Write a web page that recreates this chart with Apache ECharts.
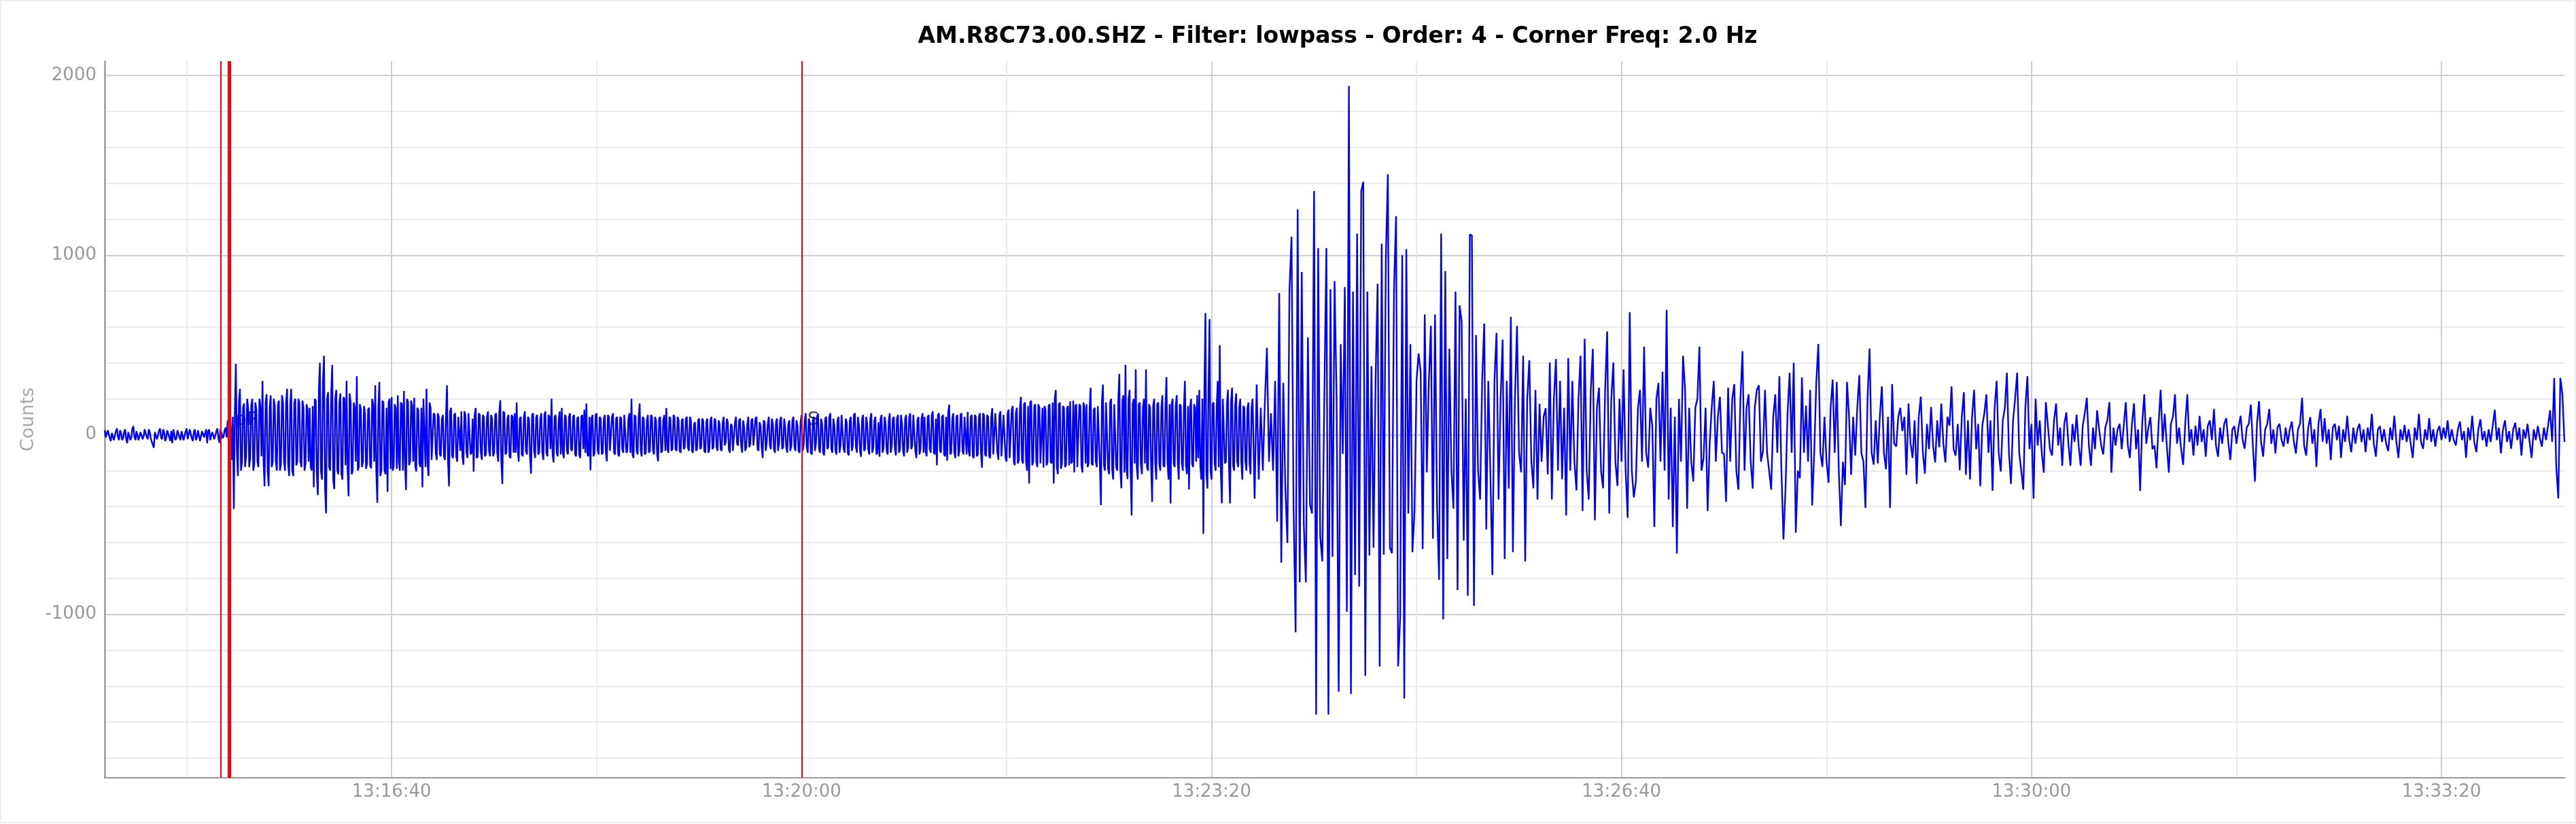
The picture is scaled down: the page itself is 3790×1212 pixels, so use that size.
<!DOCTYPE html>
<html><head><meta charset="utf-8">
<script src="https://cdn.jsdelivr.net/npm/echarts@6/dist/echarts.min.js"></script>
<style>html,body{margin:0;padding:0;background:#fff}#c{width:3790px;height:1212px}</style>
</head><body><div id="c"></div><script>
// ---- data ----
const START_TIME = '13:14:20';
const END_TIME = '13:34:20';
const SAMPLE_SECONDS = 1;

// trace values (counts) on whole seconds, in 100-second blocks
const w131420 = [25,-20,30,-35,15,-25,35,-30,10,-20,
30,-47,20,-15,48,-30,25,-35,20,-10,
30,-25,15,-40,-72,20,-30,35,-25,15,
-20,30,-35,-47,25,-20,30,-30,20,-25,
35,-20,25,-35,30,-15,20,-30,25,-20,
-47,30,-25,20,-30,35,-45,10,-10,40,
80,200,-140,-413,395,-230,256,-154,174,-120,
150,-130,200,-160,140,-180,160,300,-287,225,
-287,219,-150,160,-200,190,-167,180,-200,256,
-230,256,-230,200,-150,174,-180,150,-160,140];
const w131600 = [150,-200,-293,187,-337,401,-250,440,-438,237,
-200,389,-303,250,-220,230,-250,200,300,-343,
180,-200,150,326,-180,140,-150,120,-160,150,
-187,168,275,-379,294,-200,180,-220,-318,200,
210,-180,150,219,-200,170,244,-308,180,-150,
160,206,-205,140,-180,-293,200,256,-230,150,
-140,111,-141,100,-120,110,-141,275,-287,150,
-130,120,-150,100,130,-167,110,-130,120,-100,
-205,149,-120,110,-140,100,-110,130,-120,90,
-100,120,-150,193,-274,120,-100,110,-130,100];
const w131740 = [120,180,-150,100,-120,130,-110,90,-217,120,
-130,110,-100,120,-140,130,-120,100,200,-154,
110,-120,130,149,-130,100,-110,120,-90,110,
-120,100,-130,110,140,174,-120,-198,110,-100,
120,-110,90,-100,110,-148,100,-90,120,-110,
100,-120,90,-100,110,-90,120,200,-129,100,
-110,174,-120,90,-100,110,-90,100,-110,80,
-148,100,-90,110,149,-100,90,-80,100,-90,
80,-100,90,-70,100,-90,80,-100,70,-80,
90,-70,80,-100,90,-80,100,-70,80,-90];
const w131920 = [60,-90,100,-40,70,-100,50,-90,100,-60,
90,-100,40,-70,100,-50,90,-60,100,-90,
50,-129,70,-40,100,-80,60,-100,90,-50,
100,-70,40,-100,80,-60,100,-90,50,-100,
110,-60,120,-100,70,-110,100,-50,118,-100,
60,-115,100,-70,120,-100,50,-110,100,-60,
110,-100,70,-115,100,-60,120,-100,50,-122,
110,-80,60,-110,120,-70,100,-100,-122,110,
-70,60,-110,120,-60,100,-115,110,-80,60,
-120,110,-70,120,-60,110,-130,100,-80,120];
const w132100 = [100,-120,110,-100,130,-110,-170,120,-100,110,
-120,-145,168,-100,120,-130,110,-90,120,-110,
100,127,-120,110,-130,100,-110,120,-183,110,
-120,100,-130,148,-110,120,-140,130,-120,110,
-150,140,-130,160,-170,150,-140,211,-160,180,
-200,-272,190,-150,170,-180,150,-160,-183,140,
-150,170,-160,-272,250,-220,180,-160,150,-170,
160,186,-150,-209,170,-180,160,-210,150,170,
-160,262,-170,150,-180,160,-392,280,-200,180,
-220,200,-250,170,-200,339,-298,220,390,-247];
const w132240 = [250,-450,200,364,-250,180,-220,200,364,-200,
150,-374,200,-250,180,-200,220,-180,321,-250,
-382,200,-180,220,-250,160,-200,300,-220,-305,
200,-180,150,220,250,-250,-552,677,-300,644,
-250,180,-200,300,499,-382,200,-150,250,-382,
262,-200,230,-180,200,-250,150,-200,180,-220,
200,-356,280,-250,150,-200,180,484,-150,120,
-200,300,-484,789,-713,288,-300,-603,810,1102,
-400,-1100,1255,-822,906,-500,-822,542,-387,-438,
1357,-1558,1039,-565,-705,200,1039,-1558,810,-680];
const w132420 = [855,200,-1431,504,-107,822,-985,1942,-1443,797,
-782,1120,-845,1357,1408,-1342,797,-672,382,-629,
300,840,-1290,1064,-667,975,1451,-629,-660,810,
1217,-1290,-1023,1000,-1469,1033,-438,504,-654,-425,
300,453,351,-636,670,-209,300,606,-578,670,
-400,-807,1120,-1028,911,-692,479,-200,-412,797,
-865,720,631,-590,200,-896,1115,1110,-952,555,
-200,-361,300,619,-527,300,-200,-781,300,567,
-361,200,530,-692,300,-300,657,-654,200,606,
-100,-209,440,-705,200,415,-150,-298,250,-361];
const w132600 = [173,-150,100,148,-221,402,-361,200,422,-200,
300,-247,150,-450,427,-200,300,-150,-310,200,
440,-425,534,-200,-361,250,478,-476,150,262,
-200,-298,250,575,-438,200,402,-150,-285,200,
-150,364,-200,-463,682,-200,-349,-260,150,250,
-150,491,-100,-183,150,50,-514,200,288,-150,
351,-200,695,-361,150,-514,100,-662,199,-150,
440,250,-412,150,-150,-260,150,200,491,-200,
-132,150,-425,-50,150,300,-150,100,211,-100,
-107,-374,262,-150,199,282,-200,-306,200,465];
const w132740 = [-200,150,225,-150,-300,150,250,275,-150,-91,
250,-100,-200,-306,100,225,-100,326,-200,-583,
-300,124,345,-100,401,-545,-200,-242,320,-100,
162,-150,250,-394,-100,288,505,-100,-179,100,
-150,-268,150,307,-100,294,-200,-508,-150,-280,
294,100,-223,100,-116,150,332,-100,-150,-407,
200,480,-100,-167,80,-160,100,269,-100,-192,
100,-407,282,-50,-66,100,150,20,100,-223,
174,-50,-129,80,-274,100,212,-100,-217,60,
-80,155,-60,-154,80,-70,174,-50,-154,100];
const w132920 = [50,269,-80,-116,60,-198,100,237,-223,80,
-249,100,250,-80,60,-287,50,120,225,-100,
80,-312,150,300,-100,-205,80,150,345,-100,
-274,80,200,345,-100,-200,-306,150,326,-80,
60,-356,200,-60,80,-100,-211,181,50,-80,
-116,80,174,-60,40,-173,60,124,-50,-173,
60,-40,111,-60,-173,50,120,206,-60,-173,
40,-80,136,30,-60,-110,40,80,181,-211,
40,-60,30,61,-80,50,181,-60,-129,60,
174,-80,30,-312,60,225,-50,40,98,-80];
const w133100 = [-60,-186,60,250,-40,117,-60,-211,60,100,
225,-50,40,-80,-167,60,225,-40,30,-116,
50,-60,105,-40,30,-122,50,80,-30,143,
-60,-122,40,-50,60,92,-40,-141,30,48,
-50,40,105,-30,-78,40,60,168,-60,-261,
60,187,-40,-122,30,60,143,-50,30,-104,
40,61,-30,-66,40,-50,30,73,-40,-104,
30,60,206,-60,-116,40,98,-50,30,-179,
60,143,-40,92,-50,30,-141,40,61,-30,
50,-129,30,-40,105,-30,-97,40,-50,30];
const w133240 = [61,-40,30,-97,40,-30,117,-50,-122,30,
48,-40,30,-50,-91,40,-30,105,-40,-129,
30,-30,54,-40,30,-50,-129,40,-30,117,
-40,-78,30,-30,92,-40,30,-66,20,48,
-30,40,-20,80,-40,30,-30,-59,30,73,
-30,20,-129,40,-30,105,-40,-97,30,86,
-30,20,-66,30,-40,50,139,-30,40,-104,
30,80,-40,20,-78,30,67,-30,40,-116,
30,-20,61,-40,-129,30,-30,48,-20,-66,
40,-30,50,136,-40,316,-179,-354,316,225,
-40];

// extra half-second values for the dense stretch 13:14:20 - 13:23:40
const h131420 = [-15,25,-20,10,-30,20,-15,25,-30,15,
-25,15,-30,35,-10,20,-30,15,-25,30,
-10,30,-20,-45,15,-25,20,-15,30,-35,
25,-15,20,30,-30,25,-15,20,-30,20,
-25,30,-20,15,-30,25,-35,20,-15,30,
20,-30,15,-25,20,-20,30,-20,25,-15,
-60,40,100,120,-100,180,-200,150,-180,200,
-180,160,-200,180,-150,200,-120,-150,180,-200,
150,-180,200,-150,170,-200,220,-150,180,-160,
160,-200,180,-170,200,-150,190,-200,170,-150];
const h131600 = [-180,160,200,-220,250,-200,300,-300,200,-180,
220,-250,200,-200,180,-220,210,-170,-200,230,
-220,180,-150,-200,170,-180,160,-190,140,-170,
200,-150,-200,150,-230,190,-200,150,180,-190,
-200,170,-190,-150,180,-200,-160,200,-170,190,
-150,-170,150,-160,150,200,-180,-160,180,-140,
120,-100,120,-110,90,-120,100,-150,130,-120,
110,-120,100,-90,-120,130,-100,120,-110,90,
110,-130,120,-100,110,-120,100,-90,110,-120,
110,-100,120,-150,130,-110,90,-120,110,-100];
const h131740 = [-100,-80,90,-110,100,-90,100,-120,110,-90,
100,-110,90,-100,110,-100,110,-80,-110,100,
-100,90,-110,-100,110,-90,100,-80,100,-110,
90,-110,100,-80,-100,-110,100,90,-120,110,
-90,100,-110,90,-100,110,-90,100,-100,90,
-110,100,-80,110,-100,90,-100,-110,110,-90,
100,-90,100,-110,80,-100,110,-90,100,-110,
90,-100,80,-90,-80,100,-90,110,-80,100,
-90,80,-80,90,-70,100,-90,60,-90,80,
-80,90,-90,70,-100,80,-80,90,-70,80];
const h131920 = [-80,70,-60,90,-80,60,-90,70,-50,80,
-60,80,-90,60,-70,80,-60,90,-80,70,
-70,80,-90,60,-60,90,-80,70,-90,80,
-80,90,-70,60,-90,80,-70,80,-90,70,
-90,80,-70,90,-100,80,-90,100,-80,90,
-100,90,-80,100,-80,90,-90,80,-100,110,
-80,90,-100,80,-90,110,-70,100,-90,90,
-90,100,-80,90,-100,80,-110,70,90,-100,
100,-90,80,-100,90,-80,90,-100,110,-90,
90,-100,100,-80,110,-90,80,-110,90,-100];
const h132100 = [-90,100,-80,110,-100,90,110,-90,100,-110,
100,120,-110,90,-100,100,-120,110,-90,100,
-110,-90,100,-120,110,-120,100,-100,120,-110,
110,-120,100,-110,120,-100,110,-120,110,-130,
120,-130,140,-150,120,-160,150,-140,170,-150,
160,180,-170,160,-150,170,-160,150,160,-170,
160,-150,180,200,-180,170,-190,160,-180,150,
-170,-160,190,160,-180,170,-170,180,-160,-180,
150,-160,140,-150,160,-170,180,-170,180,-190,
180,-190,170,-180,190,-200,190,-210,-190,200];
const h132240 = [-200,170,-160,-180,170,-160,150,-160,-180,170,
-170,160,-150,170,-160,150,-170,160,-150,170,
170,-160,160,-150,170,-160,150,-170,160,150,
-160,170,-150,-130,-170,200,250,-220,250,-200,
170,-160,160,-180,-200,200,-160,170,-180,180,
-170,160,-150,150,-150,160,-150,150,-160,150];

const yGridValues = [-1800,-1600,-1400,-1200,-1000,-800,-600,-400,-200,0,200,400,600,800,1000,1200,1400,1600,1800,2000];
const yLabelValues = [-1000,0,1000,2000];
const xGridTimes = ['13:15:00','13:16:40','13:18:20','13:20:00','13:21:40','13:23:20','13:25:00','13:26:40','13:28:20','13:30:00','13:31:40','13:33:20'];
const xLabelTimes = ['13:16:40','13:20:00','13:23:20','13:26:40','13:30:00','13:33:20'];
const phaseNames = ['', 'pP', 'S'];
const phaseTimes = ['13:15:16.7','13:15:20.8','13:20:00.0'];
const Y_MIN = -1910, Y_MAX = 2080;

// ---- build ----
function toSec(s){const p=s.split(':');return (+p[0])*3600+(+p[1])*60+parseFloat(p[2]);}
function fmt(v){const s=Math.round(v);const h=Math.floor(s/3600),m=Math.floor((s%3600)/60),ss=s%60;
  return h+':'+String(m).padStart(2,'0')+':'+String(ss).padStart(2,'0');}
const t0 = toSec(START_TIME);
const values = [].concat(w131420,w131600,w131740,w131920,w132100,w132240,w132420,w132600,w132740,w132920,w133100,w133240);
const halves = [].concat(h131420,h131600,h131740,h131920,h132100,h132240);
const trace = [];
values.forEach((v,i)=>{
  trace.push([t0 + i*SAMPLE_SECONDS, v]);
  if (i < halves.length) trace.push([t0 + (i+0.5)*SAMPLE_SECONDS, halves[i]]);
});

const phaseWidths = [2, 5, 2];
const FONT = 'DejaVu Sans';
const minorGrid = '#ebebeb', majorGrid = '#cfcfcf';

const chart = echarts.init(document.getElementById('c'), null, {renderer:'canvas', width:3790, height:1212});
chart.setOption({
  animation:false,
  backgroundColor:'#ffffff',
  graphic:[{type:'rect', shape:{x:1,y:1,width:3788,height:1209}, style:{fill:null, stroke:'#efefef', lineWidth:2}, silent:true, z:-10}],
  title:{text:'AM.R8C73.00.SHZ - Filter: lowpass - Order: 4 - Corner Freq: 2.0 Hz',
    left:1963, top:33, textAlign:'center',
    textStyle:{fontFamily:FONT, fontWeight:'bold', fontSize:33, color:'#000'}},
  grid:{left:154, right:17, top:90, bottom:68, containLabel:false},
  xAxis:{type:'value', min:toSec(START_TIME), max:toSec(END_TIME),
    axisLine:{show:true, onZero:false, lineStyle:{color:'#999', width:2}},
    axisTick:{show:false, customValues:xGridTimes.map(toSec)},
    axisLabel:{customValues:xLabelTimes.map(toSec), formatter:fmt, color:'#999', fontFamily:FONT, fontSize:26, margin:8},
    splitLine:{show:true, lineStyle:{color:[minorGrid, majorGrid], width:2}}},
  yAxis:{type:'value', min:Y_MIN, max:Y_MAX, name:'Counts', nameLocation:'middle', nameGap:96,
    nameTextStyle:{color:'#aaa', fontFamily:FONT, fontSize:27},
    axisLine:{show:true, onZero:false, lineStyle:{color:'#999', width:2.5}},
    axisTick:{show:false, customValues:yGridValues},
    axisLabel:{customValues:yLabelValues, formatter:v=>String(v), color:'#999', fontFamily:FONT, fontSize:26, margin:12},
    splitLine:{show:true, lineStyle:{color:[minorGrid,minorGrid,minorGrid,minorGrid,majorGrid], width:2}}},
  series:[
    {type:'line', name:'phases', data:[], z:2, silent:true,
      markLine:{silent:true, symbol:['none','none'], animation:false, label:{show:false},
        data:phaseTimes.map((t,i)=>({xAxis:toSec(t), lineStyle:{color:'#ff0000', width:phaseWidths[i], type:'solid'}}))}},
    {type:'scatter', name:'phaseLabels', z:2, silent:true, symbolSize:1, itemStyle:{color:'rgba(0,0,0,0)'},
      data:phaseTimes.map((t,i)=>[toSec(t), 0, phaseNames[i]]),
      label:{show:true, formatter:p=>p.data[2], position:[9,-21], align:'left', verticalAlign:'middle',
        color:'#111', fontFamily:FONT, fontSize:27}},
    {type:'line', name:'trace', data:trace, z:3, showSymbol:false, symbol:'none', sampling:'none',
      lineStyle:{color:'#0000ff', width:2.4}, silent:true}
  ]
});
</script></body></html>
